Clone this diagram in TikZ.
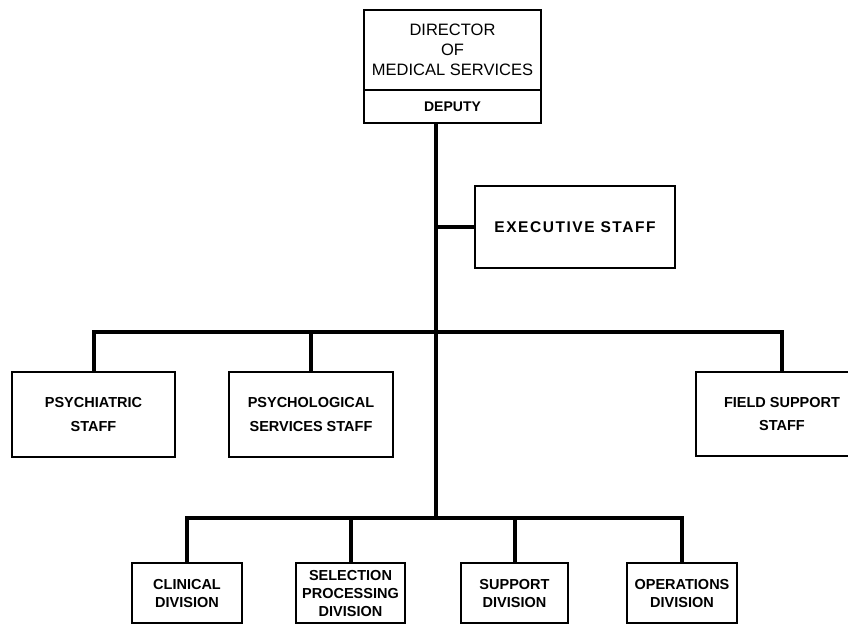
\documentclass[tikz,border=0pt]{standalone}
\usepackage{fontspec}
\setmainfont{Liberation Sans}
\begin{document}
\begin{tikzpicture}[x=1pt,y=-1pt,
  orgbox/.style={draw, line width=1.8pt, inner sep=0pt, align=center,
    font=\bfseries\fontsize{14.5}{18}\selectfont},
  link/.style={line width=4pt, line cap=butt, line join=miter},
  rule/.style={line width=1.8pt}]
\useasboundingbox (0,0) rectangle (848,624);
\clip (0,0) rectangle (848,624);

% director's office
\node[orgbox, minimum width=177pt, minimum height=113pt] (dms) at (452.5,66.5) {};
\node[align=center, font=\fontsize{16.5}{20}\selectfont] (dmstitle) at (452.5,50)
  {DIRECTOR\\OF\\MEDICAL SERVICES};
\coordinate (sep) at (452.5,90);
\draw[rule] (dms.west |- sep) -- (dms.east |- sep);
\node[font=\bfseries\fontsize{14}{16}\selectfont] (deputy) at (452.5,106.5) {DEPUTY};

% executive staff
\node[orgbox, minimum width=200pt, minimum height=82pt,
  font=\bfseries\fontsize{15.5}{18}\selectfont\addfontfeature{LetterSpace=10}] (exec) at (575,227) {EXECUTIVE STAFF};

% staff row
\node[orgbox, minimum width=163pt, minimum height=85pt, font=\bfseries\fontsize{14.5}{24}\selectfont] (psychiatric) at (93.5,414.5) {PSYCHIATRIC\\STAFF};
\node[orgbox, minimum width=164pt, minimum height=85pt, font=\bfseries\fontsize{14.5}{24}\selectfont] (psychological) at (311,414.5) {PSYCHOLOGICAL\\SERVICES STAFF};
\node[orgbox, minimum width=172pt, minimum height=84pt, font=\bfseries\fontsize{14.5}{23}\selectfont] (field) at (782,414) {FIELD SUPPORT\\STAFF};

% division row
\node[orgbox, minimum width=110pt, minimum height=60pt] (clinical) at (187,593) {CLINICAL\\DIVISION};
\node[orgbox, minimum width=109pt, minimum height=60pt] (selection) at (350.5,593) {SELECTION\\PROCESSING\\DIVISION};
\node[orgbox, minimum width=107pt, minimum height=60pt] (support) at (514.5,593) {SUPPORT\\DIVISION};
\node[orgbox, minimum width=110pt, minimum height=60pt] (operations) at (682,593) {OPERATIONS\\DIVISION};

% connectors
\coordinate (midbar) at (436,332);
\coordinate (lowbar) at (436,518);
\draw[link] (dms.south -| midbar) -- (lowbar);
\draw[link] (exec.west) -- (exec.west -| midbar);
\draw[link] (psychiatric.north) |- (midbar) -| (field.north);
\draw[link] (psychological.north) -- (psychological.north |- midbar);
\draw[link] (clinical.north) |- (lowbar) -| (operations.north);
\draw[link] (selection.north) -- (selection.north |- lowbar);
\draw[link] (support.north) -- (support.north |- lowbar);
\end{tikzpicture}
\end{document}
